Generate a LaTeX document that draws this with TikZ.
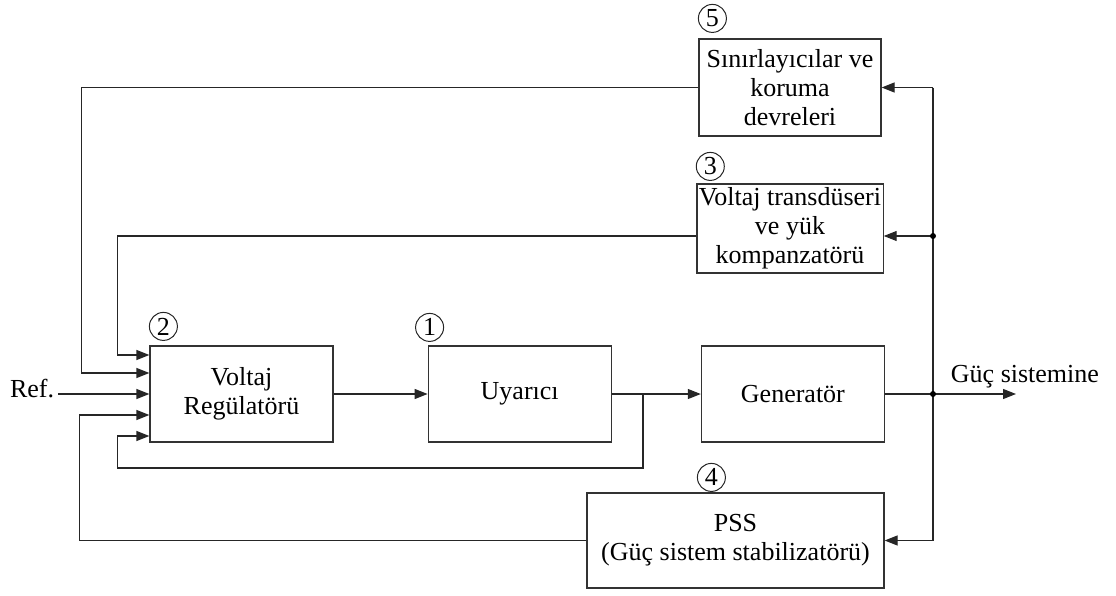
\documentclass[tikz,border=0pt]{standalone}
\usepackage{fontspec}
\setmainfont{Liberation Serif}
\usetikzlibrary{arrows.meta,positioning,calc}

\begin{document}
\begin{tikzpicture}[
  x=1pt, y=-1pt,
  line width=1.2pt,
  node distance=94pt and 94pt,
  txt/.style={font=\fontsize{26}{29}\selectfont},
  box/.style={draw=black!80, txt, align=center, inner sep=2pt,
              minimum width=183pt, minimum height=96pt},
  num/.style={circle, draw=black!85, line width=1pt, txt, inner sep=0pt,
              minimum size=28pt},
  arr/.style={-{Triangle[length=13pt,width=10pt]}, draw=black!85},
  wire/.style={draw=black!85},
  dot/.style={circle, fill=black, inner sep=0pt, minimum size=6pt},
]
\useasboundingbox (0,0) rectangle (1116,595);
\node[box] (reg) at (241.5,394) {Voltaj\\Regülatörü};
\node[box, right=94pt of reg] (exc) {Uyarıcı};
\node[box, right=89pt of exc] (gen) {Generatör};
\node[box, minimum width=182pt, minimum height=97pt] (lim) at (790,87.5)
{Sınırlayıcılar ve\\ koruma\\ devreleri};
\node[box, minimum width=182pt, minimum height=89pt] (trd) at (790,228.5)
{Voltaj transdüseri\\ ve yük\\ kompanzatörü};
\node[box, minimum width=297pt, minimum height=95pt] (pss) at (735.5,540.5)
{PSS\\ (Güç sistem stabilizatörü)};
\node[num] (n5) at ($(lim.north west)+(14,-20)$) {5};
\node[num] (n3) at ($(trd.north west)+(14,-17)$) {3};
\node[num] (n2) at ($(reg.north west)+(14,-19)$) {2};
\node[num] (n1) at ($(exc.north west)+(2,-18)$) {1};
\node[num] (n4) at ($(pss.north west)+(125,-15)$) {4};
\node[txt, anchor=base east] (ref) at (58,397) {Ref.};
\node[txt, anchor=base west] (sysl) at (947,382) {Güç sistemine};
\coordinate (out) at (933,394);
\coordinate (tt) at (933,236);
\coordinate (j) at (643,394);
\coordinate (sys) at (1016,394);
\draw[arr] (ref.base east |- reg.west) -- (reg.west);
\draw[arr] (reg.east) -- (exc.west);
\draw[arr] (exc.east) -- (gen.west);
\draw[wire] (gen.east) -- (out);
\draw[arr] (out) -- (sys);
\draw[wire] (out |- lim.east) -- (out |- pss.east);
\draw[arr] (out |- lim.east) -- (lim.east);
\draw[arr] (tt) -- (tt -| trd.east);
\draw[arr] (out |- pss.east) -- (pss.east);
\node[dot] (d1) at (out) {};
\node[dot] (d2) at (tt) {};
\draw[arr] (lim.west) -| ($(reg.west)+(-68,-21)$) -- ($(reg.west)+(0,-21)$);
\draw[arr] (trd.west |- tt) -| ($(reg.west)+(-32,-39)$) -- ($(reg.west)+(0,-39)$);
\draw[arr] (pss.west) -| ($(reg.west)+(-70,21)$) -- ($(reg.west)+(0,21)$);
\draw[arr] (j) -- ++(0,74) -| ($(reg.west)+(-32,42)$) -- ($(reg.west)+(0,42)$);
\end{tikzpicture}
\end{document}
